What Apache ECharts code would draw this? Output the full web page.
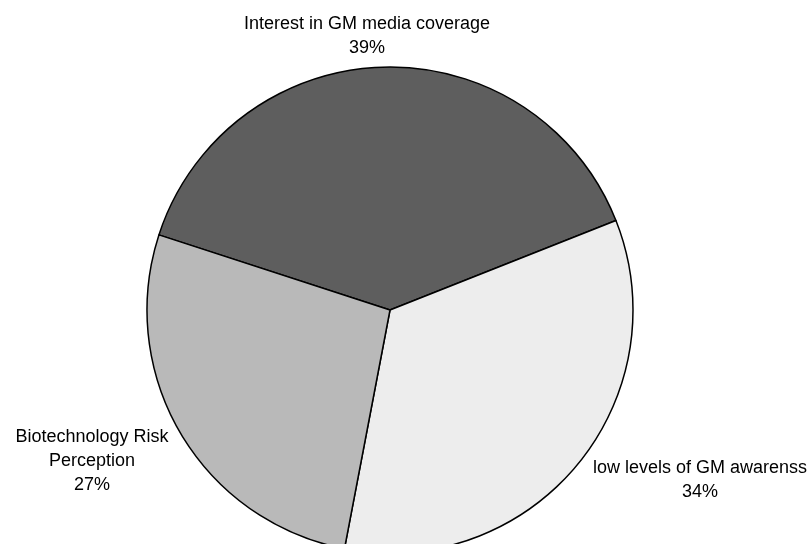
<!DOCTYPE html>
<html><head><meta charset="utf-8">
<script src="https://cdn.jsdelivr.net/npm/echarts@6/dist/echarts.min.js"></script>
<style>html,body{margin:0;padding:0;background:#fff}#c{width:811px;height:544px}</style>
</head><body><div id="c"></div>
<script>
const categories = ['Interest in GM media coverage', 'low levels of GM awarenss', 'Biotechnology Risk\nPerception'];
const values = [39, 34, 27];
const percentLabels = ['39%', '34%', '27%'];
const sliceColors = ['#5e5e5e', '#ededed', '#b9b9b9'];
const labelPos = [[367, 36], [700, 480], [92, 461]];

const chart = echarts.init(document.getElementById('c'));
chart.setOption({
  backgroundColor: '#ffffff',
  animation: false,
  series: [{
    type: 'pie',
    center: [390, 310],
    radius: 243,
    startAngle: 162,
    clockwise: true,
    data: categories.map((n, i) => ({
      name: n, value: values[i],
      itemStyle: { color: sliceColors[i] },
      label: { formatter: n + '\n' + percentLabels[i] }
    })),
    itemStyle: { borderColor: '#000', borderWidth: 1.5 },
    label: {
      show: true, position: 'outside', color: '#000',
      fontFamily: 'Liberation Sans, Arial, sans-serif', fontSize: 18,
      lineHeight: 24, align: 'center', overflow: 'none', width: 400
    },
    labelLine: { show: false },
    labelLayout: function (p) {
      const pos = labelPos[p.dataIndex];
      return { x: pos[0], y: pos[1], align: 'center', verticalAlign: 'middle' };
    },
    emphasis: { disabled: true }
  }]
});
</script></body></html>
